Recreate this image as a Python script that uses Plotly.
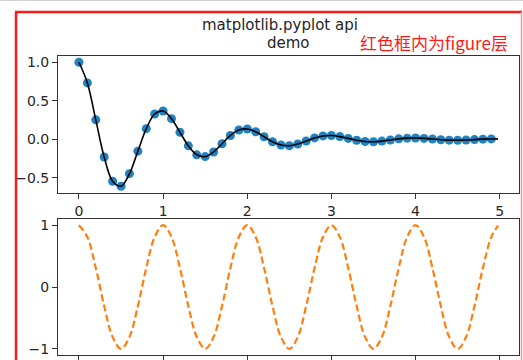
import plotly.graph_objects as go

W, H = 523, 360

# ---- data ----
t1 = [0.0, 0.1, 0.2, 0.3, 0.4, 0.5, 0.6, 0.7, 0.8, 0.9,
      1.0, 1.1, 1.2, 1.3, 1.4, 1.5, 1.6, 1.7, 1.8, 1.9,
      2.0, 2.1, 2.2, 2.3, 2.4, 2.5, 2.6, 2.7, 2.8, 2.9,
      3.0, 3.1, 3.2, 3.3, 3.4, 3.5, 3.6, 3.7, 3.8, 3.9,
      4.0, 4.1, 4.2, 4.3, 4.4, 4.5, 4.6, 4.7, 4.8, 4.9]
f1 = [1.0, 0.732, 0.253, -0.229, -0.542, -0.607, -0.444, -0.153, 0.139, 0.329,
      0.368, 0.269, 0.093, -0.084, -0.200, -0.223, -0.163, -0.057, 0.051, 0.121,
      0.135, 0.099, 0.034, -0.031, -0.073, -0.082, -0.060, -0.021, 0.019, 0.045,
      0.050, 0.036, 0.013, -0.011, -0.027, -0.030, -0.022, -0.008, 0.007, 0.016,
      0.018, 0.013, 0.005, -0.004, -0.010, -0.011, -0.008, -0.003, 0.003, 0.006]

t_line = t1 + [4.98]
f_line = f1 + [0.007]

t2 = t1 + [4.98]
c2 = [1.0, 0.809, 0.309, -0.309, -0.809, -1.0, -0.809, -0.309, 0.309, 0.809,
      1.0, 0.809, 0.309, -0.309, -0.809, -1.0, -0.809, -0.309, 0.309, 0.809,
      1.0, 0.809, 0.309, -0.309, -0.809, -1.0, -0.809, -0.309, 0.309, 0.809,
      1.0, 0.809, 0.309, -0.309, -0.809, -1.0, -0.809, -0.309, 0.309, 0.809,
      1.0, 0.809, 0.309, -0.309, -0.809, -1.0, -0.809, -0.309, 0.309, 0.809,
      0.992]

x_ticks = [0, 1, 2, 3, 4, 5]
y1_ticks = [1.0, 0.5, 0.0, -0.5]
y1_labels = ["1.0", "0.5", "0.0", "\u22120.5"]
y2_ticks = [1, 0, -1]
y2_labels = ["1", "0", "\u22121"]

title_line1 = "matplotlib.pyplot api"
title_line2 = "demo"
note = "红色框内为figure层"

# ---- helpers for pixel -> paper ----
def px(x):
    return x / W

def py(y):
    return 1 - y / H

TXT = "#262626"
AX = "#333333"
FONT = "DejaVu Sans"

fig = go.Figure()

fig.add_trace(go.Scatter(x=t1, y=f1, mode="markers",
                         marker=dict(size=9, color="#1f82c2"),
                         xaxis="x", yaxis="y", showlegend=False))
fig.add_trace(go.Scatter(x=t_line, y=f_line, mode="lines",
                         line=dict(color="black", width=1.6, shape="spline"),
                         xaxis="x", yaxis="y", showlegend=False))
fig.add_trace(go.Scatter(x=t2, y=c2, mode="lines",
                         line=dict(color="#ff7f0e", width=2.2, dash="7px,3.5px", shape="spline"),
                         xaxis="x2", yaxis="y2", showlegend=False))

axis_common = dict(showgrid=False, zeroline=False, showline=True, mirror=True,
                   linecolor=AX, linewidth=1, ticks="outside", ticklen=5,
                   tickcolor=AX, tickwidth=1, automargin=False,
                   tickfont=dict(family=FONT, size=14, color=TXT))

fig.update_layout(
    width=W, height=H,
    margin=dict(l=0, r=0, t=0, b=0, autoexpand=False),
    paper_bgcolor="white", plot_bgcolor="white",
    xaxis=dict(domain=[px(58), px(519)], range=[-0.249, 5.229],
               tickvals=x_ticks, anchor="y", **axis_common),
    yaxis=dict(domain=[py(193), py(56)], range=[-0.695, 1.081],
               tickvals=y1_ticks, ticktext=y1_labels, anchor="x", **axis_common),
    xaxis2=dict(domain=[px(58), px(519)], range=[-0.249, 5.229],
                tickvals=x_ticks, anchor="y2", **axis_common),
    yaxis2=dict(domain=[py(355), py(219)], range=[-1.1, 1.1],
                tickvals=y2_ticks, ticktext=y2_labels, anchor="x2", **axis_common),
    showlegend=False,
)

# frame lines
fig.add_shape(type="line", xref="paper", yref="paper",
              x0=0, x1=1, y0=py(0.5), y1=py(0.5),
              line=dict(color="#d4d4d4", width=1))
fig.add_shape(type="line", xref="paper", yref="paper",
              x0=px(16), x1=px(16), y0=py(12), y1=-0.1,
              line=dict(color="#ff1a1a", width=2.5))
fig.add_shape(type="line", xref="paper", yref="paper",
              x0=px(15), x1=px(522), y0=py(12), y1=py(12),
              line=dict(color="#ff1a1a", width=2.5))
fig.add_shape(type="line", xref="paper", yref="paper",
              x0=px(521.5), x1=px(521.5), y0=py(12), y1=-0.1,
              line=dict(color="#f59a9a", width=1.5))

fig.add_annotation(text=title_line1, xref="paper", yref="paper",
                   x=px(280), y=py(25), xanchor="center", yanchor="middle",
                   showarrow=False, font=dict(family=FONT, size=15, color=TXT))
fig.add_annotation(text=title_line2, xref="paper", yref="paper",
                   x=px(288.5), y=py(43), xanchor="center", yanchor="middle",
                   showarrow=False, font=dict(family=FONT, size=15, color=TXT))
fig.add_annotation(text=note, xref="paper", yref="paper",
                   x=px(358), y=py(42.5), xanchor="left", yanchor="middle",
                   showarrow=False,
                   font=dict(family="Noto Sans CJK SC", size=17, color="#ff1a1a"))

fig.write_html("out.html", config={"displayModeBar": False},
               post_script="document.body.style.margin='0px';document.body.style.overflow='hidden';")
